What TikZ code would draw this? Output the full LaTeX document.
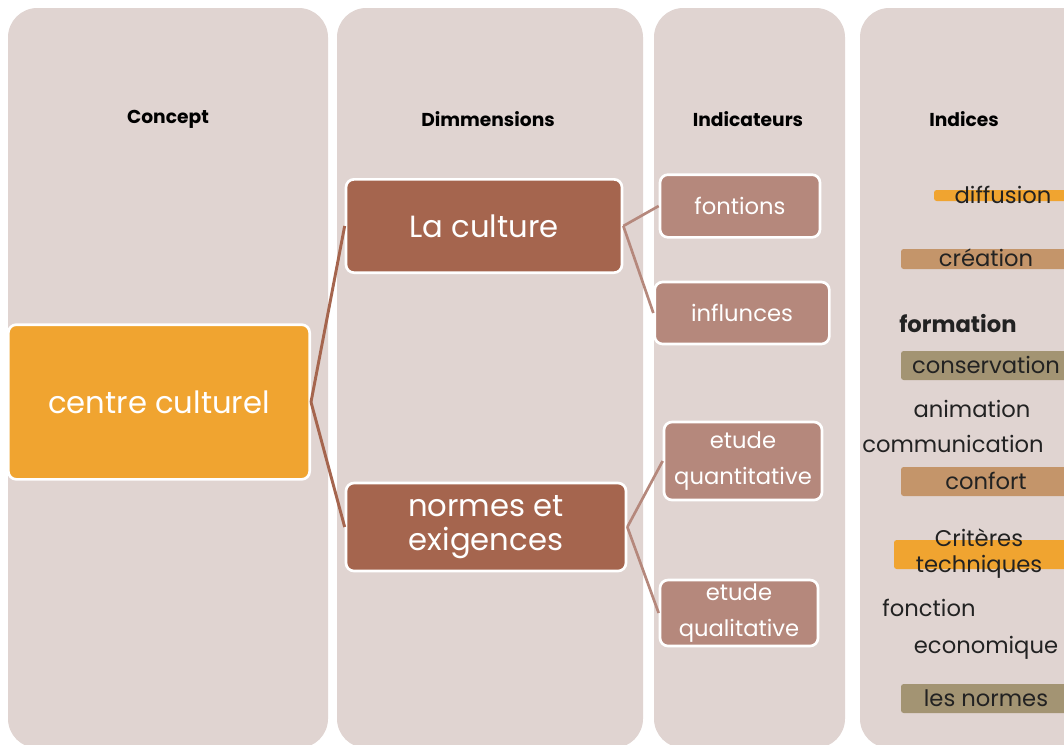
\documentclass[tikz,border=0pt]{standalone}
\usepackage{fontspec}
\setmainfont{Poppins}
\usetikzlibrary{positioning}
\definecolor{fond}{HTML}{E0D4D1}
\definecolor{orangeC}{HTML}{F0A430}
\definecolor{brunC}{HTML}{A5654E}
\definecolor{roseC}{HTML}{B5887C}
\definecolor{tanC}{HTML}{C4956A}
\definecolor{oliveC}{HTML}{A39473}
\definecolor{texteC}{HTML}{222222}
\tikzset{
  colonne/.style={fill=fond,rounded corners=22pt},
  titre/.style={font=\bfseries\fontsize{14}{16}\selectfont,text=black},
  boite/.style={draw=white,line width=2pt,rounded corners=6pt,text=white,align=center,inner sep=0pt},
  concept/.style={boite,fill=orangeC,font=\fontsize{23}{26}\selectfont},
  dimension/.style={boite,fill=brunC,font=\fontsize{23}{26}\selectfont},
  indicateur/.style={boite,fill=roseC,font=\fontsize{17}{27.5}\selectfont},
  indice/.style={text=texteC,font=\fontsize{17}{19.5}\selectfont,align=center,inner sep=0pt},
  lien/.style={draw=brunC,line width=2.2pt},
  lienclair/.style={draw=roseC,line width=2pt},
  barre/.style={rounded corners=2pt}
}
\begin{document}
\begin{tikzpicture}[x=0.75pt,y=-0.75pt]
  \useasboundingbox (0,0) rectangle (1064,744);
  \fill[white] (0,0) rectangle (1064,744);
  %colonnes
	\fill[colonne] (8,8) rectangle (328,748);
	\fill[colonne] (337,8) rectangle (643,748);
	\fill[colonne] (654,8) rectangle (845,748);
	\fill[colonne] (860,8) rectangle (1090,748);

  %titres des colonnes
	\node[titre] (tconcept) at (168,119) {Concept};
	\node[titre] (tdim) at (488,119) {Dimmensions};
	\node[titre] (tind) at (748,119) {Indicateurs};
	\node[titre] (tindices) at (964,119) {Indices};

  %concept
	\node[concept,minimum width=226pt,minimum height=116pt] (cc) at (159,402) {centre culturel};

  %dimensions
	\node[dimension,minimum width=207pt,minimum height=70pt] (culture) at (484,226) {La culture};
	\node[dimension,minimum width=210pt,minimum height=66pt] (normes) at (486,527) {normes et\\exigences};

  %indicateurs
	\node[indicateur,minimum width=120pt,minimum height=47pt] (fontions) at (740,206) {fontions};
	\node[indicateur,minimum width=131pt,minimum height=46.5pt] (influnces) at (742,313) {influnces};
	\node[indicateur,minimum width=118.5pt,minimum height=58.5pt] (quanti) at (743,461) {etude\\quantitative};
	\node[indicateur,minimum width=118.5pt,minimum height=49.5pt] (quali) at (739,613) {etude\\qualitative};

  %liens
	\draw[lien] (cc.east) -- (culture.west);
	\draw[lien] (cc.east) -- (normes.west);
	\draw[lienclair] (culture.east) -- (fontions.west);
	\draw[lienclair] (culture.east) -- (influnces.west);
	\draw[lienclair] (normes.east) -- (quanti.west);
	\draw[lienclair] (normes.east) -- (quali.west);

  %barres des indices
	\fill[barre,orangeC] (934,190) rectangle (1068,201);
	\fill[barre,tanC] (901,249) rectangle (1068,269);
	\fill[barre,oliveC] (901,351) rectangle (1068,380);
	\fill[barre,tanC] (901,467) rectangle (1068,496);
	\fill[barre,orangeC] (894,540) rectangle (1068,569);
	\fill[barre,oliveC] (901,684) rectangle (1068,713);

  %indices
	\node[indice] (diffusion) at (1003,195) {diffusion};
	\node[indice] (creation) at (986,258) {création};
	\node[indice,font=\bfseries\fontsize{17}{19.5}\selectfont,anchor=west] (formation) at (899,324) {formation};
	\node[indice] (conservation) at (986,365) {conservation};
	\node[indice] (animation) at (972,409) {animation};
	\node[indice] (communication) at (953,444) {communication};
	\node[indice] (confort) at (986,481) {confort};
	\node[indice] (criteres) at (979,554) {Critères\\techniques};
	\node[indice] (fonction) at (929,608) {fonction};
	\node[indice] (economique) at (986,648) {economique};
	\node[indice] (lesnormes) at (986,698) {les normes};
\end{tikzpicture}
\end{document}
